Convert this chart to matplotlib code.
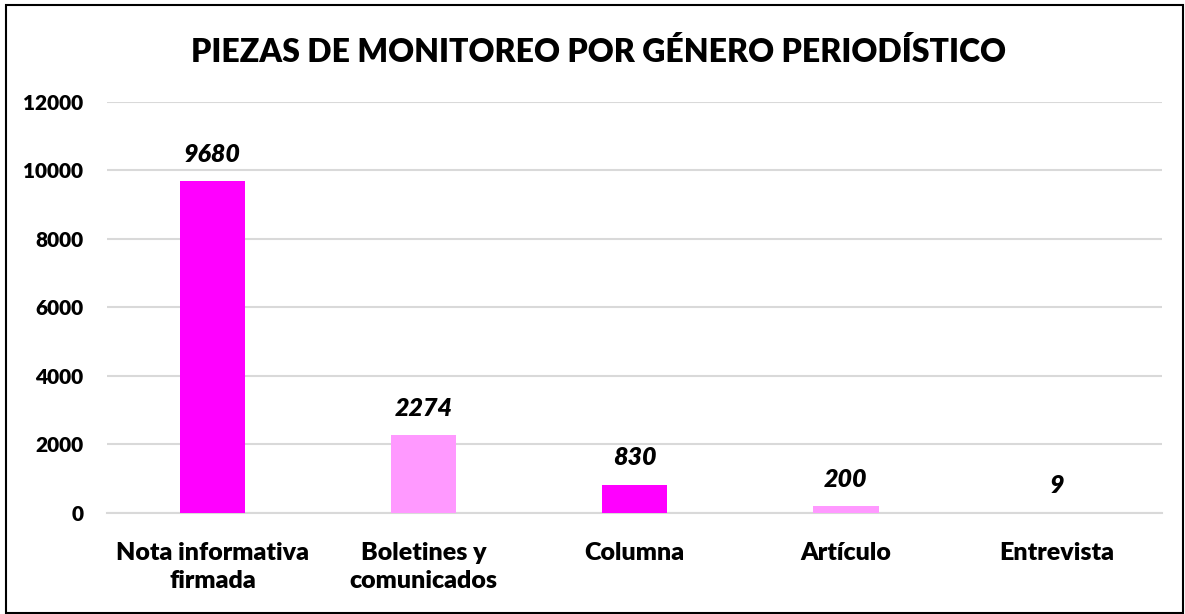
import matplotlib.pyplot as plt
import numpy as np

categories = ['Nota informativa\nfirmada', 'Boletines y\ncomunicados', 'Columna', 'Artículo', 'Entrevista']
values = [9680, 2274, 830, 200, 9]
colors = ['#FF00FF', '#FF99FF', '#FF00FF', '#FF99FF', '#FF00FF']
yticks = [0, 2000, 4000, 6000, 8000, 10000, 12000]

plt.rcParams['font.family'] = ['Lato', 'DejaVu Sans']

fig = plt.figure(figsize=(11.85, 6.14), dpi=100)
ax = fig.add_axes([0.0903, 0.1645, 0.8907, 0.6695])

x = np.arange(len(categories))
bars = ax.bar(x, values, width=0.31, color=colors, zorder=3)

for b, v in zip(bars, values):
    ax.text(b.get_x() + b.get_width() / 2, v + 450, str(v), ha='center', va='bottom',
            fontsize=18, fontweight='heavy', fontstyle='italic', zorder=4)

ax.set_ylim(0, 12000)
ax.set_xlim(-0.5, len(categories) - 0.5)
ax.set_yticks(yticks)
ax.set_yticklabels([str(t) for t in yticks], fontsize=15, fontweight='heavy')
ax.set_xticks(x)
ax.set_xticklabels(categories, fontsize=18, fontweight='heavy', linespacing=1.3)
ax.tick_params(length=0)
ax.tick_params(axis='y', pad=17)
ax.tick_params(axis='x', pad=21)
ax.grid(axis='y', color='#D9D9D9', linewidth=1.5, zorder=0)
for s in ['top', 'right', 'left']:
    ax.spines[s].set_visible(False)
ax.spines['bottom'].set_color('#D9D9D9')
ax.spines['bottom'].set_linewidth(1.5)

fig.text(0.505, 0.915, 'PIEZAS DE MONITOREO POR GÉNERO PERIODÍSTICO', ha='center', va='center',
         fontsize=23, fontweight='heavy')

fig.patches.append(plt.Rectangle((0.005, 0.002), 0.993, 0.99, transform=fig.transFigure,
                                 fill=False, edgecolor='black', linewidth=1.5))

fig.savefig('out.png', dpi=100)
